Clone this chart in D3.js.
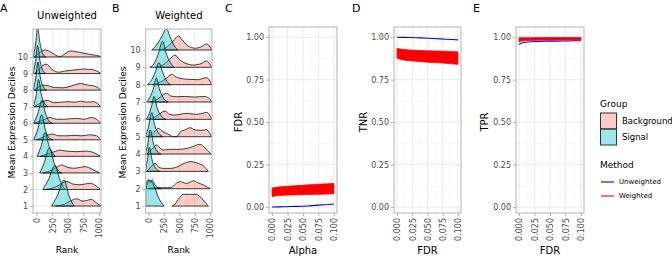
<!DOCTYPE html>
<html>
<head>
<meta charset="utf-8">
<script src="https://cdn.jsdelivr.net/npm/d3@7"></script>
<style>
  body { margin: 0; background: #fff; }
  text { font-family: "DejaVu Sans", sans-serif; }
</style>
</head>
<body>
<div id="chart"></div>
<script>
// ---- data ----
const deciles = [1, 2, 3, 4, 5, 6, 7, 8, 9, 10];
const rankTicks = [0, 250, 500, 750, 1000];
const rankMinorTicks = [125, 375, 625, 875];
const rateTicks = [0, 0.25, 0.5, 0.75, 1];
const rateMinorTicks = [0.125, 0.375, 0.625, 0.875];
const fdrTicks = [0, 0.025, 0.05, 0.075, 0.1];
const fdrMinorTicks = [0.0125, 0.0375, 0.0625, 0.0875];

// ridge densities, one list per decile (index 0 = decile 1): [rank, scaled density]
const unwSignal = [
  [[240, 0], [330, 10], [440, 26], [510, 12], [570, 3], [600, 0]],
  [[100, 0], [190, 10], [295, 24], [370, 10], [430, 2], [460, 0]],
  [[50, 0], [120, 10], [205, 25], [280, 10], [350, 2], [400, 0]],
  [[10, 0], [70, 10], [135, 24], [200, 10], [260, 3], [300, 0]],
  [[-50, 0], [15, 10], [80, 25], [140, 10], [200, 2], [260, 0]],
  [[-50, 0], [20, 10], [85, 23], [140, 10], [200, 2], [250, 0]],
  [[-55, 0], [-10, 11], [30, 27], [75, 12], [130, 3], [180, 0]],
  [[-55, 0], [-15, 12], [20, 28], [60, 12], [110, 3], [160, 0]],
  [[-55, 0], [-20, 12], [15, 28], [55, 12], [100, 3], [150, 0]],
  [[-55, 0], [-20, 12], [15, 28.5], [55, 13], [100, 3], [150, 0]]
];
const unwBackground = [
  [[300, 0], [450, 2], [540, 5], [640, 7.3], [740, 5], [800, 5.5], [880, 6.7], [960, 3], [1030, 0]],
  [[150, 0], [320, 3], [400, 6], [480, 8], [580, 5.5], [680, 4.7], [780, 5.5], [856, 6.3], [950, 3.7], [1020, 0]],
  [[100, 0], [250, 3], [330, 6], [400, 8], [500, 5.5], [600, 4.7], [700, 5.5], [775, 6.3], [880, 4], [1010, 0]],
  [[60, 0], [200, 3], [300, 5], [375, 6.3], [500, 5], [650, 4.7], [800, 5.3], [920, 3.5], [1020, 0]],
  [[0, 0], [120, 3], [240, 5.7], [360, 4], [480, 4], [600, 4.5], [720, 4], [850, 5], [960, 4], [1030, 0]],
  [[-40, 0], [100, 3], [210, 5.7], [320, 4], [430, 4], [540, 4.5], [650, 4.7], [760, 4], [880, 5.7], [980, 3], [1030, 0]],
  [[-40, 0], [40, 3], [100, 5], [170, 6.3], [280, 4], [400, 4.5], [500, 5], [620, 4.5], [700, 5.5], [800, 4.5], [900, 5], [1000, 2], [1030, 0]],
  [[-40, 0], [30, 3], [100, 5], [170, 4.5], [300, 2.5], [420, 2.3], [550, 4], [700, 6.5], [820, 5], [930, 4], [1010, 1], [1030, 0]],
  [[-40, 0], [20, 3], [80, 7], [150, 9.5], [250, 4], [350, 1.3], [450, 2.5], [600, 3.5], [750, 4.5], [880, 4], [1000, 1.3], [1030, 0]],
  [[-40, 0], [0, 2], [60, 5], [140, 7], [250, 4], [330, 1], [380, 0.5], [450, 3], [540, 6], [700, 4.5], [860, 2.5], [1000, 1], [1030, 0]]
];
const wSignal = [
  [[-49, 22], [0, 26], [50, 24], [100, 18], [150, 10], [200, 4], [250, 0]],
  [[-45, 0], [-20, 6], [-5, 9], [20, 6], [55, 9], [100, 4], [150, 1], [200, 0]],
  [[-49, 2], [-20, 12], [10, 24], [60, 10], [130, 2], [180, 0]],
  [[-49, 2], [-15, 10], [25, 24], [80, 10], [150, 2], [200, 0]],
  [[-49, 1], [-10, 8], [50, 24], [100, 11], [170, 3], [230, 0]],
  [[-40, 0], [10, 6], [50, 14], [85, 23], [140, 11], [210, 3], [280, 0]],
  [[-30, 0], [30, 6], [80, 14], [125, 24], [180, 12], [250, 3], [320, 0]],
  [[-20, 0], [50, 5], [110, 13], [165, 22], [230, 12], [300, 3], [360, 0]],
  [[20, 0], [100, 5], [160, 14], [225, 26], [290, 13], [360, 4], [420, 0]],
  [[50, 0], [130, 5], [200, 12], [290, 21], [350, 13], [420, 4], [480, 0]]
];
const wBackground = [
  [[380, 0], [430, 2], [500, 8], [565, 11.7], [680, 11.7], [783, 11.7], [860, 8], [930, 3], [973, 0]],
  [[0, 0], [100, 1], [250, 1], [375, 1.5], [440, 5], [511, 7], [620, 5.3], [728, 8], [800, 6], [892, 3.7], [960, 1.5], [1000, 0]],
  [[-30, 0], [30, 4], [103, 8], [170, 4], [240, 3], [350, 3], [450, 4], [560, 7.5], [674, 9.7], [810, 8], [900, 5], [973, 0]],
  [[-30, 0], [40, 4], [130, 9], [200, 5], [239, 4], [350, 4.7], [500, 4.7], [620, 5.5], [720, 7.5], [837, 9.7], [920, 6], [1000, 1], [1020, 0]],
  [[-20, 0], [60, 3], [158, 8.3], [230, 5], [293, 3.3], [350, 1.5], [400, 0], [457, 0], [520, 5], [600, 7], [674, 9], [760, 6.7], [870, 6.5], [946, 7], [1000, 3], [1030, 0]],
  [[0, 0], [120, 3], [200, 6.5], [266, 8.3], [340, 5], [430, 4.3], [550, 5.5], [650, 6], [760, 5], [880, 6], [946, 7], [1030, 0]],
  [[20, 0], [150, 3], [230, 7], [293, 8.7], [360, 6], [450, 5.3], [600, 5.5], [750, 5], [900, 5.5], [980, 4], [1030, 0]],
  [[60, 0], [200, 3], [300, 7], [375, 10.3], [440, 8], [511, 6.3], [600, 5.5], [674, 5.3], [800, 5], [946, 7], [1000, 3.5], [1030, 0]],
  [[120, 0], [250, 3], [340, 8], [430, 12.3], [500, 8], [565, 5], [650, 3], [728, 2.3], [850, 3.5], [946, 6.3], [1000, 3], [1030, 0]],
  [[180, 0], [300, 3], [400, 9], [484, 14], [560, 9], [620, 5], [700, 2.5], [760, 1.7], [850, 3], [946, 6], [1000, 3], [1030, 0]]
];

// panel C: FDR by alpha
const alphaVals = [0, 0.01, 0.02, 0.03, 0.04, 0.05, 0.06, 0.07, 0.08, 0.09, 0.1];
const fdrUnw = [0.000, 0.001, 0.002, 0.003, 0.004, 0.005, 0.007, 0.010, 0.013, 0.015, 0.018];
const fdrWLo = [0.062, 0.068, 0.070, 0.071, 0.072, 0.073, 0.074, 0.075, 0.076, 0.077, 0.078];
const fdrWHi = [0.112, 0.118, 0.121, 0.124, 0.126, 0.128, 0.131, 0.133, 0.135, 0.137, 0.139];
// panel D: TNR by FDR
const fdrValsD = [0, 0.01, 0.02, 0.03, 0.04, 0.05, 0.06, 0.07, 0.08, 0.09, 0.1];
const tnrUnw = [1.000, 0.999, 0.998, 0.997, 0.996, 0.994, 0.992, 0.990, 0.988, 0.986, 0.984];
const tnrWLo = [0.876, 0.866, 0.862, 0.859, 0.856, 0.853, 0.851, 0.849, 0.846, 0.843, 0.840];
const tnrWHi = [0.934, 0.928, 0.925, 0.923, 0.921, 0.920, 0.919, 0.918, 0.917, 0.915, 0.914];
// panel E: TPR by FDR
const fdrValsE = [0, 0.004, 0.01, 0.02, 0.03, 0.04, 0.05, 0.06, 0.07, 0.08, 0.09, 0.1];
const tprUnw = [0.957, 0.966, 0.970, 0.973, 0.975, 0.976, 0.977, 0.977, 0.978, 0.978, 0.979, 0.979];
const tprWLo = [0.972, 0.978, 0.980, 0.981, 0.982, 0.982, 0.982, 0.983, 0.983, 0.983, 0.983, 0.983];
const tprWHi = [0.997, 0.997, 0.997, 0.997, 0.998, 0.998, 0.998, 0.998, 0.998, 0.998, 0.998, 0.998];

// ---- setup ----
const PANEL_TOP = 29, PANEL_BOTTOM = 213;
const BG_COLOR = '#F8766D', SIG_COLOR = '#00BFC4';
const GRID_MAJOR = '#e3e3e3', GRID_MINOR = '#f0f0f0', BORDER = '#b3b3b3', TICK_TEXT = '#4d4d4d';

const svg = d3.select('#chart')
  .append('svg')
  .attr('width', 672)
  .attr('height', 258);

// shared grid + border + axes for one panel
function drawFrame(g, x, y, xMajor, xMinor, yMajor, yMinor, xFormat, yFormat) {
  const [l, r] = x.range();
  const [b, t] = y.range();

  g.append('g').selectAll('line').data(xMinor).enter().append('line')
    .attr('x1', d => x(d)).attr('x2', d => x(d)).attr('y1', t).attr('y2', b)
    .attr('stroke', GRID_MINOR).attr('stroke-width', 0.5);
  g.append('g').selectAll('line').data(yMinor).enter().append('line')
    .attr('y1', d => y(d)).attr('y2', d => y(d)).attr('x1', l).attr('x2', r)
    .attr('stroke', GRID_MINOR).attr('stroke-width', 0.5);
  g.append('g').selectAll('line').data(xMajor).enter().append('line')
    .attr('x1', d => x(d)).attr('x2', d => x(d)).attr('y1', t).attr('y2', b)
    .attr('stroke', GRID_MAJOR).attr('stroke-width', 0.7);
  g.append('g').selectAll('line').data(yMajor).enter().append('line')
    .attr('y1', d => y(d)).attr('y2', d => y(d)).attr('x1', l).attr('x2', r)
    .attr('stroke', GRID_MAJOR).attr('stroke-width', 0.7);

  // y axis
  const ya = g.append('g')
    .attr('transform', `translate(${l},0)`)
    .call(d3.axisLeft(y).tickValues(yMajor).tickSize(3).tickPadding(2).tickFormat(yFormat));
  ya.select('.domain').remove();
  ya.selectAll('line').attr('stroke', BORDER);
  ya.selectAll('text').attr('fill', TICK_TEXT).style('font-size', '8px')
    .style('font-family', '"DejaVu Sans", sans-serif');

  // x axis, labels rotated
  const xa = g.append('g')
    .attr('transform', `translate(0,${b})`)
    .call(d3.axisBottom(x).tickValues(xMajor).tickSize(3).tickFormat(xFormat));
  xa.select('.domain').remove();
  xa.selectAll('line').attr('stroke', BORDER);
  xa.selectAll('text')
    .attr('transform', 'rotate(-90)')
    .attr('x', -5)
    .attr('y', 0)
    .attr('dy', '0.35em')
    .style('text-anchor', 'end')
    .attr('fill', TICK_TEXT)
    .style('font-size', '8px')
    .style('font-family', '"DejaVu Sans", sans-serif');
}

function drawBorder(g, x, y) {
  const [l, r] = x.range();
  const [b, t] = y.range();
  g.append('rect')
    .attr('x', l).attr('y', t).attr('width', r - l).attr('height', b - t)
    .attr('fill', 'none').attr('stroke', BORDER).attr('stroke-width', 1);
}

function addText(txt, x, y, size, opts = {}) {
  const t = svg.append('text')
    .attr('x', x).attr('y', y)
    .style('font-size', size + 'px')
    .attr('fill', opts.fill || '#000')
    .attr('text-anchor', opts.anchor || 'start')
    .text(txt);
  if (opts.rotate) {
    t.attr('transform', `rotate(-90,${x},${y})`);
  }
  return t;
}

// ---- ridge panels (A, B) ----
function ridgePanel(opts) {
  const x = d3.scaleLinear().domain(opts.xDomain).range([opts.left, opts.right]);
  const y = d3.scaleLinear().domain(opts.yDomain).range([PANEL_BOTTOM, PANEL_TOP]);
  const g = svg.append('g');

  drawFrame(g, x, y, rankTicks, rankMinorTicks, deciles, [], d3.format('d'), d3.format('d'));

  svg.append('clipPath').attr('id', 'clip-' + opts.id)
    .append('rect')
    .attr('x', opts.left).attr('y', PANEL_TOP)
    .attr('width', opts.right - opts.left).attr('height', PANEL_BOTTOM - PANEL_TOP);

  const ridges = g.append('g').attr('clip-path', `url(#clip-${opts.id})`);

  // upper deciles first so lower rows sit in front
  for (let i = deciles.length - 1; i >= 0; i--) {
    const d = deciles[i];
    const area = d3.area()
      .curve(d3.curveMonotoneX)
      .x(p => x(p[0]))
      .y0(y(d))
      .y1(p => y(d + p[1] * opts.k));

    [[opts.background[i], BG_COLOR], [opts.signal[i], SIG_COLOR]].forEach(([pts, col]) => {
      ridges.append('path')
        .datum(pts)
        .attr('d', area)
        .attr('fill', col)
        .attr('fill-opacity', 0.38)
        .attr('stroke', '#111')
        .attr('stroke-width', 0.8)
        .attr('stroke-linejoin', 'round');
    });
  }

  drawBorder(g, x, y);

  addText(opts.title, (opts.left + opts.right) / 2, 18.5, 10, { anchor: 'middle' });
  addText('Rank', (opts.left + opts.right) / 2, 253, 9, { anchor: 'middle' });
  addText('Mean Expression Deciles', opts.yLabelX, 122.5, 9, { anchor: 'middle', rotate: true });
  addText(opts.letter, opts.letterX, 12, 11);
}

ridgePanel({
  id: 'a', letter: 'A', letterX: 0, title: 'Unweighted',
  left: 33, right: 101, xDomain: [-59, 1032], yDomain: [0.58, 11.69],
  k: 1 / 16.56, yLabelX: 15,
  signal: unwSignal, background: unwBackground
});
ridgePanel({
  id: 'b', letter: 'B', letterX: 112, title: 'Weighted',
  left: 145.7, right: 212, xDomain: [-49, 1033], yDomain: [0.6, 11.21],
  k: 1 / 17.33, yLabelX: 126,
  signal: wSignal, background: wBackground
});

// ---- rate panels (C, D, E) ----
function ratePanel(opts) {
  const x = d3.scaleLinear().domain([-0.005, 0.105]).range([opts.left, opts.right]);
  const y = d3.scaleLinear().domain([-0.035, 1.06]).range([PANEL_BOTTOM, 27]);
  const g = svg.append('g');

  drawFrame(g, x, y, fdrTicks, fdrMinorTicks, rateTicks, rateMinorTicks,
    d3.format('.3f'), d3.format('.2f'));

  const line = d3.line()
    .x((d, i) => x(opts.xs[i]))
    .y(d => y(d));
  g.append('path')
    .datum(opts.unw)
    .attr('d', line)
    .attr('fill', 'none')
    .attr('stroke', '#0000FF')
    .attr('stroke-width', 1.1);

  const ribbon = d3.area()
    .x((d, i) => x(opts.xs[i]))
    .y0((d, i) => y(opts.wLo[i]))
    .y1(d => y(d));
  g.append('path')
    .datum(opts.wHi)
    .attr('d', ribbon)
    .attr('fill', '#FF0000')
    .attr('stroke', '#FF0000')
    .attr('stroke-width', 0.8);

  drawBorder(g, x, y);

  addText(opts.xLabel, (opts.left + opts.right) / 2, 253.5, 10, { anchor: 'middle' });
  addText(opts.yLabel, opts.yLabelX, 122, 10, { anchor: 'middle', rotate: true });
  addText(opts.letter, opts.letterX, 12, 11);
}

ratePanel({
  letter: 'C', letterX: 225, left: 269, right: 337, xLabel: 'Alpha', yLabel: 'FDR', yLabelX: 242,
  xs: alphaVals, unw: fdrUnw, wLo: fdrWLo, wHi: fdrWHi
});
ratePanel({
  letter: 'D', letterX: 352, left: 394, right: 461, xLabel: 'FDR', yLabel: 'TNR', yLabelX: 367,
  xs: fdrValsD, unw: tnrUnw, wLo: tnrWLo, wHi: tnrWHi
});
ratePanel({
  letter: 'E', letterX: 473, left: 516, right: 584, xLabel: 'FDR', yLabel: 'TPR', yLabelX: 488,
  xs: fdrValsE, unw: tprUnw, wLo: tprWLo, wHi: tprWHi
});

// ---- legend ----
const legend = svg.append('g').attr('transform', 'translate(600,0)');
legend.append('text').attr('x', 0).attr('y', 106.5).style('font-size', '9px').text('Group');
[['Background', BG_COLOR], ['Signal', SIG_COLOR]].forEach(([name, col], i) => {
  legend.append('rect')
    .attr('x', 0.5).attr('y', 113 + i * 16)
    .attr('width', 16).attr('height', 16)
    .attr('fill', col).attr('fill-opacity', 0.38)
    .attr('stroke', '#333').attr('stroke-width', 1);
  legend.append('text')
    .attr('x', 22).attr('y', 121 + i * 16).attr('dy', '0.35em')
    .style('font-size', '8.5px').text(name);
});
legend.append('text').attr('x', 0).attr('y', 168).style('font-size', '9px').text('Method');
[['Unweighted', '#0000FF'], ['Weighted', '#FF0000']].forEach(([name, col], i) => {
  legend.append('line')
    .attr('x1', 1).attr('x2', 14)
    .attr('y1', 182 + i * 14).attr('y2', 182 + i * 14)
    .attr('stroke', col).attr('stroke-width', 1.1);
  legend.append('text')
    .attr('x', 19).attr('y', 182 + i * 14).attr('dy', '0.35em')
    .style('font-size', '7px').text(name);
});
</script>
</body>
</html>
